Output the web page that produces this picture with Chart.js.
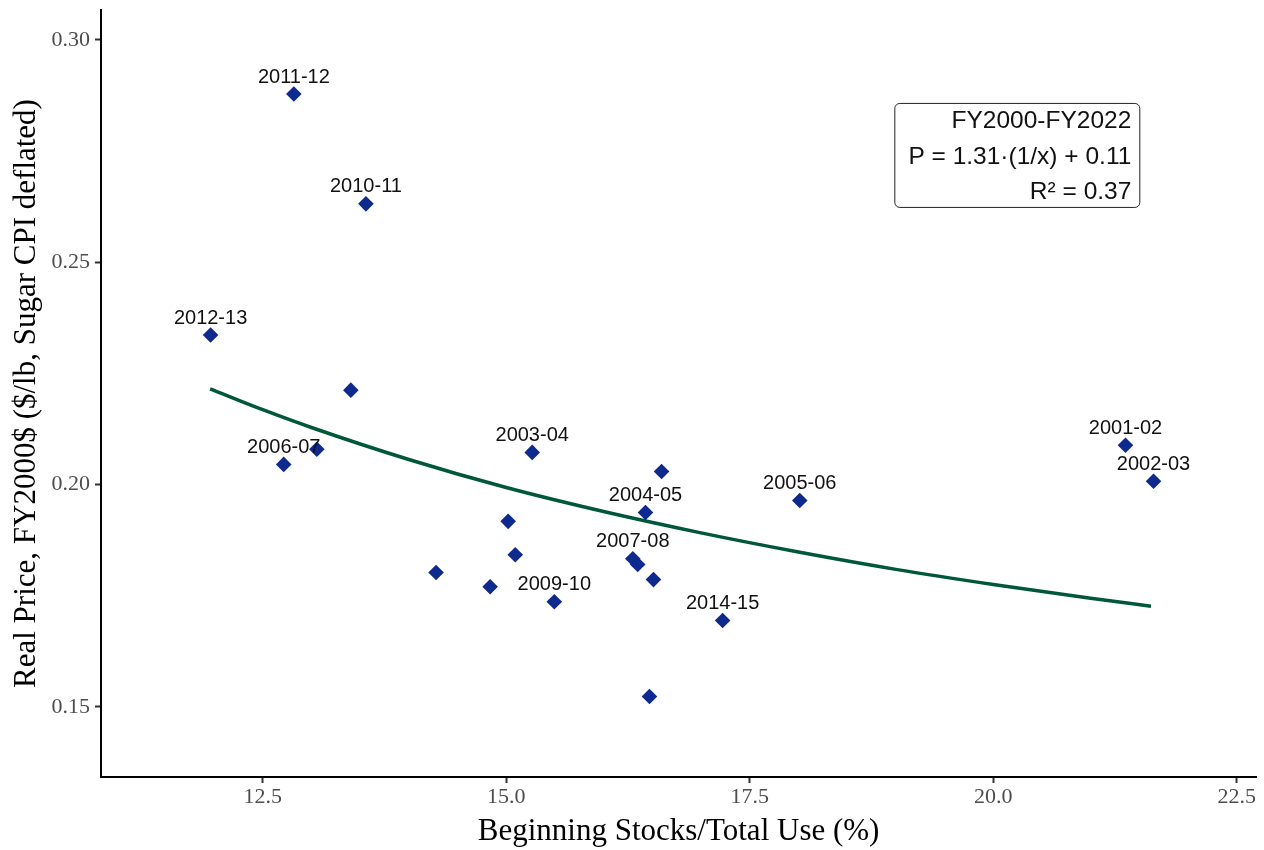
<!DOCTYPE html>
<html><head><meta charset="utf-8">
<script src="https://cdn.jsdelivr.net/npm/chart.js@4"></script>
<style>html,body{margin:0;padding:0;background:#fff;}#wrap{width:1264px;height:850px;}</style>
</head><body><div id="wrap"><canvas id="c" width="1264" height="850"></canvas></div>
<script>
const stocksPct = [12.82, 13.56, 11.965, 13.405, 12.716, 13.056, 15.267, 16.595, 16.43, 18.014, 21.358, 21.646, 15.02, 15.093, 14.28, 14.835, 15.494, 16.30, 16.35, 16.512, 17.222, 16.471];
const realPrice = [0.2878, 0.2631, 0.2336, 0.2212, 0.2045, 0.2079, 0.2072, 0.2029, 0.1937, 0.1964, 0.2088, 0.2007, 0.1917, 0.1842, 0.1802, 0.1770, 0.1736, 0.1833, 0.1820, 0.1786, 0.1694, 0.1523];
const pointLabels = ["2011-12", "2010-11", "2012-13", "", "2006-07", "", "2003-04", "", "2004-05", "2005-06", "2001-02", "2002-03", "", "", "", "", "2009-10", "2007-08", "", "", "2014-15", ""];
const curveX = [11.96, 12.5, 13, 14, 15, 16, 17, 18, 19, 20, 21, 21.62];
const curveY = [0.2215, 0.2168, 0.2128, 0.2056, 0.1993, 0.1939, 0.1891, 0.1848, 0.1809, 0.1775, 0.1744, 0.1726];
const xTicks = [12.5, 15.0, 17.5, 20.0, 22.5];
const yTicks = [0.15, 0.20, 0.25, 0.30];
const boxLines = ["FY2000-FY2022", "P = 1.31·(1/x) + 0.11", "R² = 0.37"];

const labelPlugin = {
  id: 'pointLabels',
  afterDatasetsDraw(chart) {
    const meta = chart.getDatasetMeta(1);
    const ctx = chart.ctx;
    ctx.save();
    ctx.font = '20px "Liberation Sans", Arial, sans-serif';
    ctx.fillStyle = '#111';
    ctx.textAlign = 'center';
    ctx.textBaseline = 'middle';
    meta.data.forEach((el, i) => {
      const t = pointLabels[i];
      if (t) ctx.fillText(t, el.x, el.y - 17);
    });
    ctx.restore();
  }
};
const boxPlugin = {
  id: 'eqBox',
  afterDraw(chart) {
    const ctx = chart.ctx;
    const xs = chart.scales.x, ys = chart.scales.y;
    const right = xs.getPixelForValue(21.50);
    const top = ys.getPixelForValue(0.2858);
    const w = 245, h = 104, left = right - w;
    ctx.save();
    ctx.beginPath();
    ctx.roundRect(left + 0.5, top + 0.5, w, h, 5);
    ctx.fillStyle = '#fff';
    ctx.fill();
    ctx.lineWidth = 1;
    ctx.strokeStyle = '#222';
    ctx.stroke();
    ctx.font = '24.5px "Liberation Sans", Arial, sans-serif';
    ctx.fillStyle = '#111';
    ctx.textAlign = 'right';
    ctx.textBaseline = 'middle';
    const offs = [18, 54, 89];
    boxLines.forEach((t, i) => ctx.fillText(t, right - 8, top + offs[i]));
    ctx.restore();
  }
};

new Chart(document.getElementById('c'), {
  type: 'scatter',
  data: {
    datasets: [
      {
        type: 'line',
        data: curveX.map((x, i) => ({x, y: curveY[i]})),
        borderColor: '#00573a',
        borderWidth: 3.5,
        pointRadius: 0,
        fill: false,
        cubicInterpolationMode: 'monotone',
        order: 2
      },
      {
        data: stocksPct.map((x, i) => ({x, y: realPrice[i]})),
        pointStyle: 'rectRot',
        pointRadius: 7.8,
        backgroundColor: '#0f2a8e',
        borderColor: '#0f2a8e',
        borderWidth: 0,
        order: 1
      }
    ]
  },
  options: {
    responsive: false,
    animation: false,
    events: [],
    layout: {padding: {left: 0, right: 2, top: 10, bottom: 0}},
    plugins: {legend: {display: false}, tooltip: {enabled: false}},
    scales: {
      x: {
        type: 'linear', min: 10.84, max: 22.70,
        afterBuildTicks(s) { s.ticks = xTicks.map(v => ({value: v})); },
        afterFit(s) { s.height = 73; s.paddingLeft = 0; s.paddingRight = 0; },
        grid: {display: true, drawOnChartArea: false, drawTicks: true, tickLength: 6, tickColor: '#333', tickWidth: 2},
        border: {display: true, color: '#000', width: 2},
        ticks: {color: '#4d4d4d', font: {family: '"Liberation Serif", serif', size: 22}, padding: 1, maxRotation: 0, callback: v => v.toFixed(1)},
        title: {display: true, text: 'Beginning Stocks/Total Use (%)', color: '#000', font: {family: '"Liberation Serif", serif', size: 31}, padding: {top: 0, bottom: 0}}
      },
      y: {
        type: 'linear', min: 0.1342, max: 0.3067,
        afterBuildTicks(s) { s.ticks = yTicks.map(v => ({value: v})); },
        afterFit(s) { s.width = 101; s.paddingTop = 0; s.paddingBottom = 0; },
        grid: {display: true, drawOnChartArea: false, drawTicks: true, tickLength: 6, tickColor: '#333', tickWidth: 2},
        border: {display: true, color: '#000', width: 2},
        ticks: {color: '#4d4d4d', font: {family: '"Liberation Serif", serif', size: 22}, padding: 5, callback: v => v.toFixed(2)},
        title: {display: true, text: 'Real Price, FY2000$ ($/lb, Sugar CPI deflated)', color: '#000', font: {family: '"Liberation Serif", serif', size: 31}, padding: {top: 8, bottom: 0}}
      }
    }
  },
  plugins: [labelPlugin, boxPlugin]
});
</script>
</body></html>
